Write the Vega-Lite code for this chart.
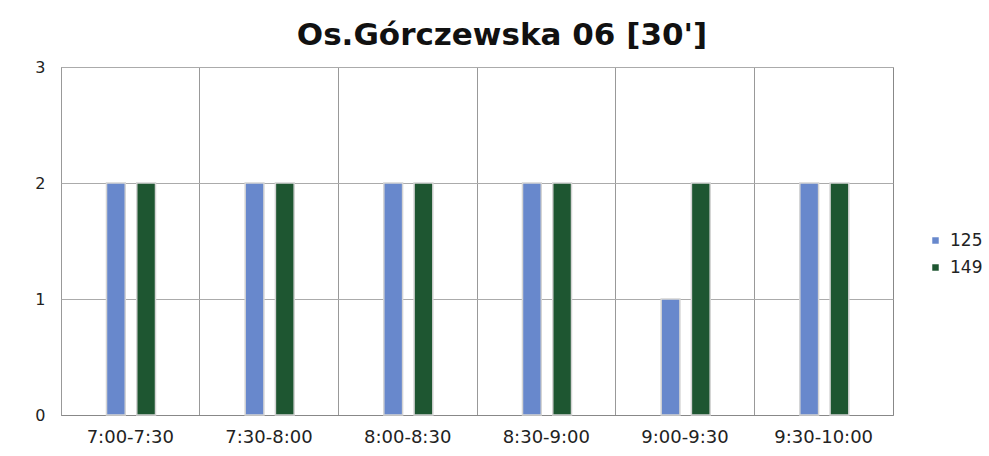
{
  "$schema": "https://vega.github.io/schema/vega-lite/v6.json",
  "autosize": {"type": "none"},
  "width": 832,
  "height": 348,
  "padding": {"left": 61, "top": 67, "right": 96, "bottom": 41},
  "background": "white",
  "title": {
    "text": "Os.Górczewska 06 [30']",
    "font": "DejaVu Sans",
    "fontSize": 31,
    "fontWeight": "bold",
    "color": "#111",
    "anchor": "middle",
    "dx": 25,
    "offset": 7
  },
  "data": {
    "values": [
      {"slot": "7:00-7:30", "line": "125", "count": 2},
      {"slot": "7:00-7:30", "line": "149", "count": 2},
      {"slot": "7:30-8:00", "line": "125", "count": 2},
      {"slot": "7:30-8:00", "line": "149", "count": 2},
      {"slot": "8:00-8:30", "line": "125", "count": 2},
      {"slot": "8:00-8:30", "line": "149", "count": 2},
      {"slot": "8:30-9:00", "line": "125", "count": 2},
      {"slot": "8:30-9:00", "line": "149", "count": 2},
      {"slot": "9:00-9:30", "line": "125", "count": 1},
      {"slot": "9:00-9:30", "line": "149", "count": 2},
      {"slot": "9:30-10:00", "line": "125", "count": 2},
      {"slot": "9:30-10:00", "line": "149", "count": 2}
    ]
  },
  "mark": {"type": "bar", "stroke": "#d4d4d4", "strokeWidth": 1.5},
  "encoding": {
    "x": {
      "field": "slot",
      "type": "nominal",
      "sort": null,
      "scale": {"paddingInner": 0, "paddingOuter": 0},
      "axis": {
        "title": null,
        "labelAngle": 0,
        "labelFont": "DejaVu Sans",
        "labelFontSize": 18,
        "labelColor": "#222",
        "labelPadding": 13,
        "ticks": false,
        "domain": true,
        "domainColor": "#888",
        "grid": true,
        "gridColor": "#999",
        "bandPosition": 0
      }
    },
    "xOffset": {
      "field": "line",
      "type": "nominal",
      "scale": {"range": [45.5, 94.5], "paddingInner": 0.38, "paddingOuter": 0}
    },
    "y": {
      "field": "count",
      "type": "quantitative",
      "scale": {"domain": [0, 3]},
      "axis": {
        "title": null,
        "values": [0, 1, 2, 3],
        "labelFont": "DejaVu Sans",
        "labelFontSize": 16,
        "labelColor": "#222",
        "labelPadding": 16,
        "ticks": false,
        "domain": false,
        "grid": true,
        "gridColor": "#ababab"
      }
    },
    "color": {
      "field": "line",
      "type": "nominal",
      "scale": {"domain": ["125", "149"], "range": ["#6888cc", "#1e5631"]},
      "legend": {
        "title": null,
        "orient": "none",
        "legendX": 866,
        "legendY": 165,
        "symbolType": "square",
        "symbolSize": 42,
        "symbolStrokeWidth": 0,
        "labelFont": "DejaVu Sans",
        "labelFontSize": 17,
        "labelColor": "#222",
        "labelOffset": 6,
        "rowPadding": 9
      }
    }
  },
  "config": {
    "view": {"stroke": "#888"}
  }
}
